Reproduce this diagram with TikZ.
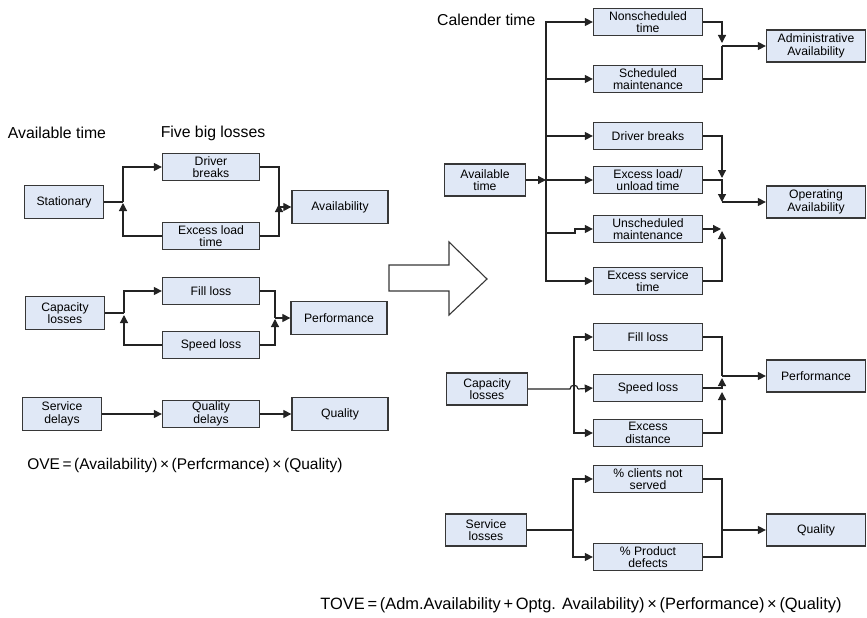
\documentclass[tikz,border=0pt]{standalone}
\usepackage{fontspec}
\setmainfont{Liberation Sans}
\usetikzlibrary{arrows.meta,positioning}
\definecolor{boxfill}{RGB}{224,232,246}
\definecolor{boxline}{RGB}{55,55,55}
\definecolor{wire}{RGB}{35,35,35}

\begin{document}
\begin{tikzpicture}[x=1pt,y=-1pt,
  box/.style={draw=boxline,fill=boxfill,line width=1.3pt,align=center,inner sep=1pt,font=\fontsize{12.2}{12.6}\selectfont},
  lossL/.style={box,minimum width=97pt,minimum height=27pt},
  srcL/.style={box,minimum width=79pt,minimum height=33pt},
  resL/.style={box,minimum width=96pt,minimum height=33pt},
  lossR/.style={box,minimum width=109pt,minimum height=27pt},
  srcR/.style={box,minimum width=81pt,minimum height=32pt},
  resR/.style={box,minimum width=99pt,minimum height=32pt},
  link/.style={draw=wire,line width=1.2pt},
  flow/.style={link,-{Triangle[length=8pt,width=8pt]}},
  heading/.style={font=\fontsize{15.8}{18}\selectfont},
  formula/.style={font=\fontsize{15.5}{18}\selectfont}]
\useasboundingbox (0,0) rectangle (867,618);
% left: five big losses
\node[heading] (hAvail) at (57,133) {Available time};
\node[heading] (hFive) at (213,133) {Five big losses};
\node[srcL] (stat) at (64,202) {Stationary};
\node[lossL] (drvL) at (211,167) {Driver\\breaks};
\node[lossL] (exlL) at (211,236) {Excess load\\time};
\node[resL] (availL) at (340,207) {Availability};
\node[srcL] (capL) at (65,313) {Capacity\\losses};
\node[lossL] (fillL) at (211,291) {Fill loss};
\node[lossL] (spdL) at (211,345) {Speed loss};
\node[resL] (perfL) at (339,318) {Performance};
\node[srcL] (srvL) at (62,414) {Service\\delays};
\node[lossL] (qdL) at (211,414) {Quality\\delays};
\node[resL] (qualL) at (340,414) {Quality};
\node[formula] (ove) at (185,465) {OVE\,=\,(Availability)\,×\,(Perfcrmance)\,×\,(Quality)};

\coordinate (sA) at (123,202);
\draw[link] (stat.east) -- (sA);
\draw[flow] (sA) |- (drvL.west);
\draw[flow] (exlL.west) -| (123,203);
\coordinate (jA) at (279,207);
\draw[link] (drvL.east) -| (jA);
\draw[flow] (exlL.east) -| (279,204);
\draw[flow] (jA) -- (availL.west);

\coordinate (sP) at (124,313);
\draw[link] (capL.east) -- (sP);
\draw[flow] (sP) |- (fillL.west);
\draw[flow] (spdL.west) -| (124,315);
\coordinate (jP) at (275,318);
\draw[link] (fillL.east) -| (jP);
\draw[flow] (spdL.east) -| (275,319);
\draw[flow] (jP) -- (perfL.west);

\draw[flow] (srvL) -- (qdL);
\draw[flow] (qdL) -- (qualL);

% hollow arrow
\draw[draw=boxline,line width=1.1pt,fill=white] (389,265) -- (449,265) -- (449,242) -- (487,279) -- (449,315) -- (449,291) -- (389,291) -- cycle;

% right: extended losses
\node[heading,anchor=east] (hCal) at (539,20) {Calender time};
\node[lossR] (nsch) at (648,22) {Nonscheduled\\time};
\node[lossR] (sch) at (648,79) {Scheduled\\maintenance};
\node[resR] (admR) at (816,46) {Administrative\\Availability};
\node[srcR] (avt) at (485,180) {Available\\time};
\node[lossR] (drvR) at (648,136) {Driver breaks};
\node[lossR] (exlR) at (648,180) {Excess load/\\unload time};
\node[lossR] (unsch) at (648,229) {Unscheduled\\maintenance};
\node[lossR] (exsR) at (648,281) {Excess service\\time};
\node[resR] (opR) at (816,202) {Operating\\Availability};
\node[srcR] (capR) at (487,389) {Capacity\\losses};
\node[lossR] (fillR) at (648,337) {Fill loss};
\node[lossR] (spdR) at (648,388) {Speed loss};
\node[lossR] (exdR) at (648,433) {Excess\\distance};
\node[resR] (perfR) at (816,376) {Performance};
\node[srcR] (srvR) at (486,530) {Service\\losses};
\node[lossR] (clR) at (648,479) {\% clients not\\served};
\node[lossR] (pdR) at (648,557) {\% Product\\defects};
\node[resR] (qualR) at (816,530) {Quality};
\node[formula,font=\fontsize{16.4}{18}\selectfont] (tove) at (581,605) {TOVE\,=\,(Adm.Availability\,+\,Optg. Availability)\,×\,(Performance)\,×\,(Quality)};

\coordinate (sT) at (546,180);
\draw[flow] (avt.east) -- (sT);
\foreach \b in {nsch,sch,drvR,exlR,exsR} \draw[flow] (sT) |- (\b.west);
\draw[flow] (sT) |- (575,233) |- (unsch.west);
\coordinate (jAd) at (722,46);
\draw[flow] (nsch.east) -| (722,43);
\draw[link] (sch.east) -| (jAd);
\draw[flow] (jAd) -- (admR.west);
\coordinate (jOp) at (722,202);
\draw[flow] (drvR.east) -| (722,178);
\draw[flow] (exlR.east) -| (jOp);
\draw[flow] (unsch.east) -- (721,229);
\draw[flow] (exsR.east) -| (722,231);
\draw[flow] (jOp) -- (opR.west);

\coordinate (sC) at (574,389);
\draw[link] (capR.east) -- (570,389) .. controls (570,384) and (578,384) .. (578,389);
\draw[flow] (578,389) -- (spdR.west);
\draw[flow] (sC) |- (fillR.west);
\draw[flow] (sC) |- (exdR.west);
\coordinate (jC) at (722,376);
\draw[link] (fillR.east) -| (jC);
\draw[flow] (spdR.east) -| (722,378);
\draw[flow] (exdR.east) -| (722,392);
\draw[flow] (jC) -- (perfR.west);

\coordinate (sS) at (573,530);
\draw[link] (srvR.east) -- (sS);
\draw[flow] (sS) |- (clR.west);
\draw[flow] (sS) |- (pdR.west);
\coordinate (jS) at (722,530);
\draw[link] (clR.east) -| (jS);
\draw[link] (pdR.east) -| (jS);
\draw[flow] (jS) -- (qualR.west);
\end{tikzpicture}
\end{document}
